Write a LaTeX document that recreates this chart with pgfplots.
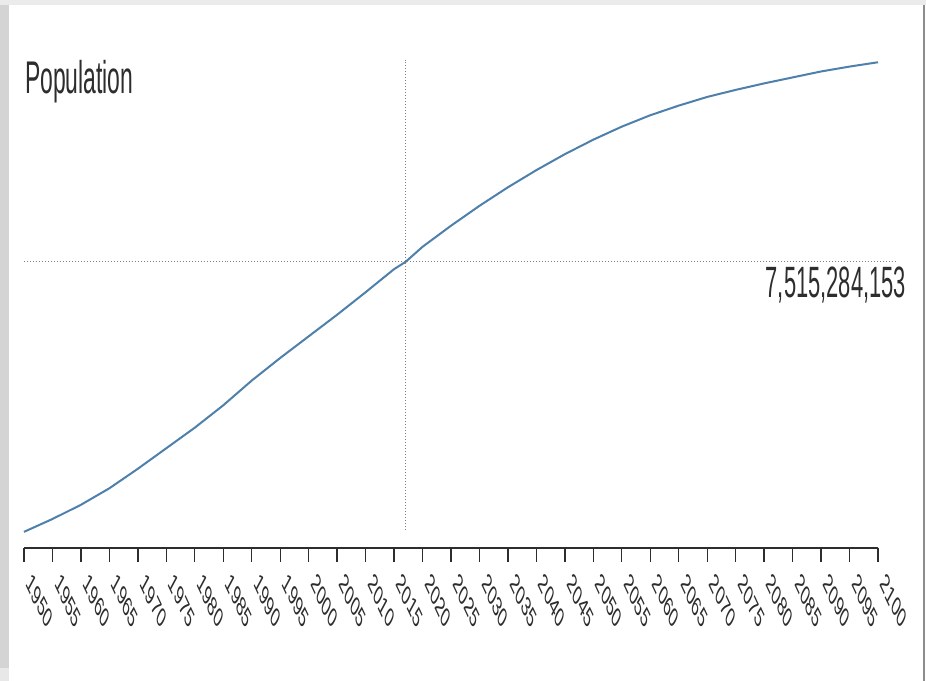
\documentclass[border=0pt]{standalone}
\usepackage{pgfplots}
\pgfplotsset{compat=1.18}
\usepackage{fontspec}
\setmainfont{Liberation Sans}
\definecolor{steel}{RGB}{78,128,172}
\definecolor{txt}{RGB}{45,45,45}
\begin{document}
\begin{tikzpicture}
% frame
\fill[white] (0,0) rectangle (926bp,681bp);
\fill[black!17] (0,0) rectangle (9bp,681bp);
\fill[black!9] (0,0) rectangle (9bp,13bp);
\fill[black!8] (0,676bp) rectangle (926bp,681bp);
\draw[black!45, line width=1.5bp] (924bp,0) -- (924bp,676bp);
% title
\node[anchor=base west, inner sep=0pt, xscale=0.5, text=txt,
      font=\fontsize{46}{50}\selectfont] at (25bp,587bp) {Population};
\begin{axis}[
  at={(24bp,133bp)}, anchor=south west,
  scale only axis, width=854bp, height=518bp,
  xmin=1950, xmax=2100, ymin=2.238, ymax=11.795,
  axis x line*=bottom, axis y line=none,
  ytick=\empty,
  xtick={1950,1955,...,2100},
  xticklabels={1950,1955,1960,1965,1970,1975,1980,1985,1990,1995,2000,2005,2010,2015,2020,2025,2030,2035,2040,2045,2050,2055,2060,2065,2070,2075,2080,2085,2090,2095,2100},
  tick align=outside,
  major tick length=14bp,
  x axis line style={txt, line width=2bp},
  tick style={txt, line width=1.3bp},
  x tick label style={font=\fontsize{28}{30}\selectfont, text=txt,
     xshift=5bp, yshift=-16bp, xscale=0.5, rotate=-47, anchor=west, inner sep=0pt},
  clip=false,
]
\addplot[steel, line width=2bp] coordinates {
(1950,2.536) (1955,2.773) (1960,3.035) (1965,3.340) (1970,3.700)
(1975,4.079) (1980,4.458) (1985,4.871) (1990,5.327) (1995,5.744)
(2000,6.143) (2005,6.542) (2010,6.957) (2015,7.383) (2017,7.515)
(2020,7.795) (2025,8.184) (2030,8.551) (2035,8.893) (2040,9.210)
(2045,9.504) (2050,9.772) (2055,10.012) (2060,10.222) (2065,10.400)
(2070,10.560) (2075,10.690) (2080,10.810) (2085,10.920) (2090,11.030)
(2095,11.120) (2100,11.200)
};
\draw[black!50, dotted, line width=1bp] (axis cs:1950,7.515284153) -- (axis cs:2103,7.515284153);
\draw[black!50, dotted, line width=1bp] (axis cs:2017,2.57) -- (axis cs:2017,11.24);
\end{axis}
\node[anchor=base east, inner sep=0pt, xscale=0.5, text=txt,
      font=\fontsize{44}{48}\selectfont] at (906bp,383bp) {7,515,284,153};
\pgfresetboundingbox
\useasboundingbox (0,0) rectangle (926bp,681bp);
\end{tikzpicture}
\end{document}
